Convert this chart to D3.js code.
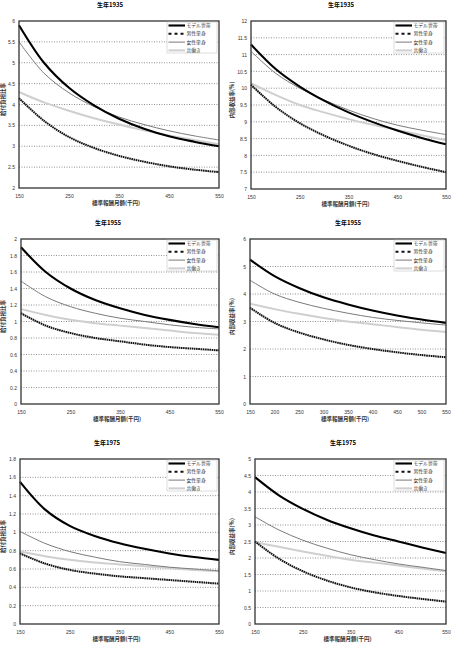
<!DOCTYPE html>
<html>
<head>
<meta charset="utf-8">
<script src="https://cdn.jsdelivr.net/npm/d3@7"></script>
<style>
  body { margin: 0; background: #fff; }
  svg { display: block; font-family: "Noto Sans CJK JP", "DejaVu Sans", sans-serif; }
</style>
</head>
<body>
<svg width="456" height="661"></svg>
<script>
// salary (standard monthly remuneration, thousand yen)
var salary = [150, 200, 250, 300, 350, 400, 450, 500, 550];
var seriesNames = ['モデル世帯', '男性単身', '女性単身', '共働き'];
var ratioLabel = '給付負担比率', irrLabel = '内部収益率(%)', xLabel = '標準報酬月額(千円)';

// 1935 benefit/contribution ratio
var r1935Model = [5.9, 5.0, 4.4, 3.98, 3.66, 3.42, 3.24, 3.11, 3.0];
var r1935Male = [4.15, 3.61, 3.22, 2.96, 2.77, 2.63, 2.52, 2.44, 2.38];
var r1935Female = [5.5, 4.75, 4.28, 3.95, 3.7, 3.52, 3.37, 3.25, 3.15];
var r1935Dual = [4.3, 4.05, 3.85, 3.67, 3.52, 3.38, 3.26, 3.15, 3.05];
// 1935 internal rate of return
var i1935Model = [11.3, 10.58, 10.05, 9.63, 9.28, 8.99, 8.74, 8.52, 8.33];
var i1935Male = [10.1, 9.45, 8.96, 8.59, 8.29, 8.04, 7.84, 7.66, 7.5];
var i1935Female = [11.1, 10.45, 10.0, 9.65, 9.35, 9.1, 8.9, 8.75, 8.62];
var i1935Dual = [10.15, 9.8, 9.5, 9.28, 9.08, 8.91, 8.76, 8.6, 8.45];
// 1955
var r1955Model = [1.9, 1.6, 1.4, 1.26, 1.16, 1.08, 1.02, 0.97, 0.93];
var r1955Male = [1.1, 0.95, 0.86, 0.8, 0.76, 0.72, 0.69, 0.67, 0.65];
var r1955Female = [1.49, 1.3, 1.18, 1.1, 1.04, 1.0, 0.96, 0.93, 0.91];
var r1955Dual = [1.15, 1.08, 1.02, 0.98, 0.95, 0.92, 0.89, 0.86, 0.84];
var i1955Model = [5.25, 4.65, 4.22, 3.88, 3.62, 3.4, 3.22, 3.07, 2.95];
var i1955Male = [3.5, 2.95, 2.6, 2.35, 2.15, 2.0, 1.88, 1.78, 1.7];
var i1955Female = [4.5, 4.0, 3.7, 3.48, 3.3, 3.15, 3.04, 2.95, 2.87];
var i1955Dual = [3.65, 3.45, 3.28, 3.13, 3.0, 2.9, 2.8, 2.7, 2.62];
// 1975
var r1975Model = [1.55, 1.25, 1.07, 0.96, 0.88, 0.82, 0.77, 0.73, 0.70];
var r1975Male = [0.77, 0.66, 0.59, 0.55, 0.52, 0.50, 0.48, 0.46, 0.44];
var r1975Female = [1.01, 0.88, 0.79, 0.73, 0.68, 0.65, 0.62, 0.60, 0.58];
var r1975Dual = [0.79, 0.74, 0.70, 0.67, 0.65, 0.63, 0.61, 0.59, 0.575];
var i1975Model = [4.45, 3.9, 3.49, 3.16, 2.9, 2.68, 2.5, 2.32, 2.15];
var i1975Male = [2.5, 1.98, 1.6, 1.32, 1.11, 0.96, 0.85, 0.76, 0.68];
var i1975Female = [3.25, 2.85, 2.54, 2.3, 2.1, 1.95, 1.82, 1.72, 1.62];
var i1975Dual = [2.48, 2.34, 2.2, 2.07, 1.95, 1.86, 1.77, 1.68, 1.6];

var styles = [
    { stroke: '#000', width: 2.1, dash: null },
    { stroke: '#111', width: 2, dash: '1.6,0.6' },
    { stroke: '#7a7a7a', width: 1, dash: null },
    { stroke: '#cfcfcf', width: 2, dash: null }
];

var panels = [
    { title: '生年1935', yLabel: ratioLabel, dom: [2, 6], step: 0.5, xStep: 100, series: [r1935Model, r1935Male, r1935Female, r1935Dual],
      box: [19, 219, 21, 188], tx: 110, ty: 5, lx: 3 },
    { title: '生年1935', yLabel: irrLabel, dom: [7, 12], step: 0.5, xStep: 100, series: [i1935Model, i1935Male, i1935Female, i1935Dual],
      box: [251, 446, 21, 189], tx: 341, ty: 5, lx: 232 },
    { title: '生年1955', yLabel: ratioLabel, dom: [0, 2], step: 0.2, xStep: 100, series: [r1955Model, r1955Male, r1955Female, r1955Dual],
      box: [21, 219, 239, 404], tx: 108, ty: 223, lx: 3 },
    { title: '生年1955', yLabel: irrLabel, dom: [0, 6], step: 1, xStep: 50, series: [i1955Model, i1955Male, i1955Female, i1955Dual],
      box: [250, 446, 239, 404], tx: 348, ty: 223, lx: 232 },
    { title: '生年1975', yLabel: ratioLabel, dom: [0, 1.8], step: 0.2, xStep: 100, series: [r1975Model, r1975Male, r1975Female, r1975Dual],
      box: [20, 219, 459, 624], tx: 107, ty: 443, lx: 3 },
    { title: '生年1975', yLabel: irrLabel, dom: [0, 5], step: 0.5, xStep: 100, series: [i1975Model, i1975Male, i1975Female, i1975Dual],
      box: [255, 446, 459, 624], tx: 343, ty: 443, lx: 232 }
];

var svg = d3.select('svg');

panels.forEach(function (p) {
    var x0 = p.box[0], x1 = p.box[1], y0 = p.box[2], y1 = p.box[3];
    var x = d3.scaleLinear().domain([150, 550]).range([x0, x1]);
    var y = d3.scaleLinear().domain(p.dom).range([y1, y0]);
    var g = svg.append('g');

    var yTicks = d3.range(p.dom[0], p.dom[1] + p.step / 2, p.step).map(function (v) { return +v.toFixed(2); });
    var xTicks = d3.range(150, 551, p.xStep);

    // dotted grid
    g.selectAll('line.grid').data(yTicks.slice(1, -1)).enter().append('line')
        .attr('x1', x0).attr('x2', x1)
        .attr('y1', function (d) { return y(d); }).attr('y2', function (d) { return y(d); })
        .attr('stroke', '#777').attr('stroke-width', 0.8).attr('stroke-dasharray', '1,1.5');

    // y axis
    var ya = g.append('g').attr('transform', 'translate(' + x0 + ',0)')
        .call(d3.axisLeft(y).tickValues(yTicks).tickSize(0).tickPadding(4).tickFormat(d3.format('~g')));
    ya.select('.domain').remove();
    ya.selectAll('text').attr('font-size', 5).attr('fill', '#333');

    // x axis
    var xa = g.append('g').attr('transform', 'translate(0,' + y1 + ')')
        .call(d3.axisBottom(x).tickValues(xTicks).tickSize(0).tickPadding(6));
    xa.select('.domain').remove();
    xa.selectAll('text').attr('font-size', 5).attr('fill', '#333');

    // lines
    var line = d3.line()
        .x(function (d, i) { return x(salary[i]); })
        .y(function (d) { return y(d); })
        .curve(d3.curveCatmullRom.alpha(0.5));
    [3, 2, 1, 0].forEach(function (k) {
        g.append('path').datum(p.series[k])
            .attr('d', line)
            .attr('fill', 'none')
            .attr('stroke', styles[k].stroke)
            .attr('stroke-width', styles[k].width)
            .attr('stroke-dasharray', styles[k].dash);
    });

    // frame
    g.append('rect').attr('x', x0).attr('y', y0).attr('width', x1 - x0).attr('height', y1 - y0)
        .attr('fill', 'none').attr('stroke', '#333').attr('stroke-width', 1.3);

    // legend
    var lgx = x1 - 52, lgy = y0 + 1;
    var lg = g.append('g').attr('transform', 'translate(' + lgx + ',' + lgy + ')');
    lg.append('rect').attr('width', 50).attr('height', 31)
        .attr('fill', '#fff').attr('stroke', '#bbb').attr('stroke-width', 0.5);
    seriesNames.forEach(function (name, k) {
        var yy = 3.5 + k * 8.3;
        lg.append('line').attr('x1', 1.5).attr('x2', 18).attr('y1', yy).attr('y2', yy)
            .attr('stroke', styles[k].stroke).attr('stroke-width', styles[k].width)
            .attr('stroke-dasharray', k === 1 ? '3,3' : null);
        lg.append('text').attr('x', 19.5).attr('y', yy).attr('dy', '0.35em')
            .attr('font-size', 4.8).attr('fill', '#333').text(name);
    });

    // titles
    g.append('text').attr('x', p.tx).attr('y', p.ty).attr('dy', '0.35em')
        .attr('text-anchor', 'middle').attr('font-size', 6).attr('font-weight', 'bold').text(p.title);
    g.append('text').attr('x', (x0 + x1) / 2 - 3).attr('y', y1 + 15.5).attr('dy', '0.35em')
        .attr('text-anchor', 'middle').attr('font-size', 5.5).attr('font-weight', 'bold').attr('fill', '#333').text(xLabel);
    g.append('text')
        .attr('transform', 'translate(' + p.lx + ',' + ((y0 + y1) / 2 - 5) + ') rotate(-90)')
        .attr('dy', '0.35em')
        .attr('text-anchor', 'middle').attr('font-size', 5.5).attr('font-weight', 'bold').attr('fill', '#333').text(p.yLabel);
});
</script>
</body>
</html>
